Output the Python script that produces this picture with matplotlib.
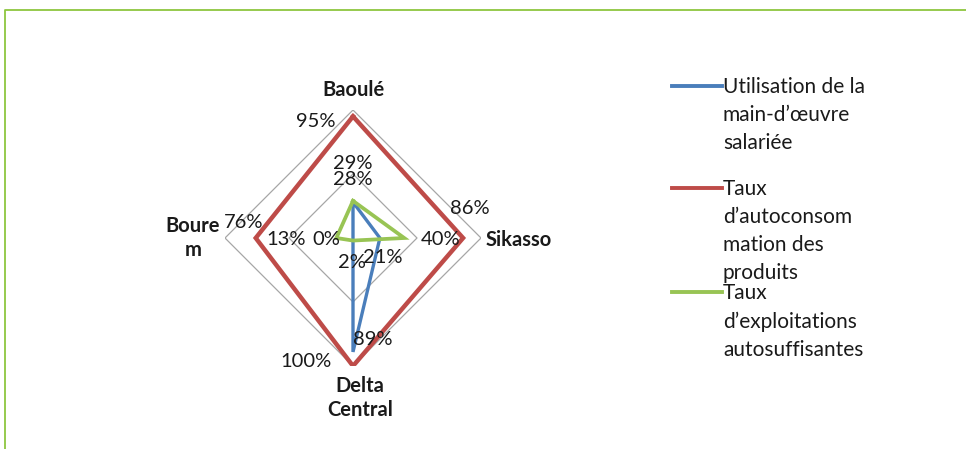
import numpy as np
import matplotlib
matplotlib.use("Agg")
import matplotlib.pyplot as plt
from matplotlib.lines import Line2D

plt.rcParams['font.family'] = ['Lato', 'DejaVu Sans']

categories = ["Baoulé", "Sikasso", "Delta\nCentral", "Boure\nm"]
series_names = ["Utilisation de la\nmain-d\u2019œuvre\nsalariée",
                "Taux\nd\u2019autoconsom\nmation des\nproduits",
                "Taux\nd\u2019exploitations\nautosuffisantes"]
main_oeuvre = [28, 21, 89, 0]
autoconso = [95, 86, 100, 76]
autosuff = [29, 40, 2, 13]
grid_levels = [50, 100]

colors = ["#4A7EBB", "#BE4B48", "#98C454"]
widths = [2.4, 3.2, 2.7]

# label offsets in points (dx, dy) per series per category
offsets = [
    [(0, 16), (2, -14), (14, 9), (-19, -1)],
    [(-27, -4), (5, 21), (-34, 3), (-9, 11)],
    [(0, 27), (26, -1), (-1, -16), (-36, -1)],
]

W, H = 966, 449
fig = plt.figure(figsize=(W / 100, H / 100), dpi=100)

cx, cy, R = 353, 238, 128
ax = fig.add_axes([(cx - R) / W, (H - cy - R) / H, 2 * R / W, 2 * R / H], projection='polar')
ax.set_theta_zero_location('N')
ax.set_theta_direction(-1)
ax.set_ylim(0, 100)
ax.axis('off')

n = len(categories)
theta = np.linspace(0, 2 * np.pi, n, endpoint=False)
theta_c = np.concatenate([theta, theta[:1]])

for lv in grid_levels:
    ax.plot(theta_c, [lv] * (n + 1), color="#A6A6A6", lw=0.9, zorder=1)

all_series = [main_oeuvre, autoconso, autosuff]
for vals, col, lw in zip(all_series, colors, widths):
    v = np.array(vals + vals[:1], dtype=float)
    ax.plot(theta_c, v, color=col, lw=lw, zorder=3, solid_joinstyle='miter')

for si, vals in enumerate(all_series):
    for ci, v in enumerate(vals):
        ax.annotate(f"{v}%", xy=(theta[ci], v), xytext=offsets[si][ci],
                    textcoords='offset points', ha='center', va='center',
                    fontsize=14.5, color="#1a1a1a", zorder=5, annotation_clip=False)

# category labels
cat_pos = [(353, 90), (519, 240), (360, 398), (193, 238)]
for name, (px, py) in zip(categories, cat_pos):
    fig.text(px / W, 1 - py / H, name, ha='center', va='center', fontsize=14.5,
             fontweight='bold', color="#1a1a1a", linespacing=1.3)

# legend
leg_y = [86, 188, 292]
for name, col, ly in zip(series_names, colors, leg_y):
    fig.add_artist(Line2D([672 / W, 722 / W], [1 - ly / H, 1 - ly / H], color=col, lw=2.8,
                          transform=fig.transFigure))
    fig.text(723 / W, 1 - (ly - 9) / H, name, ha='left', va='top', fontsize=15,
             color="#1a1a1a", linespacing=1.5)

# green frame
fig.add_artist(Line2D([4.5 / W, 4.5 / W, 1.0], [0.0, 1 - 9.5 / H, 1 - 9.5 / H],
                      color="#8DC63F", lw=1.3, transform=fig.transFigure))

fig.savefig("out.png", dpi=100)
